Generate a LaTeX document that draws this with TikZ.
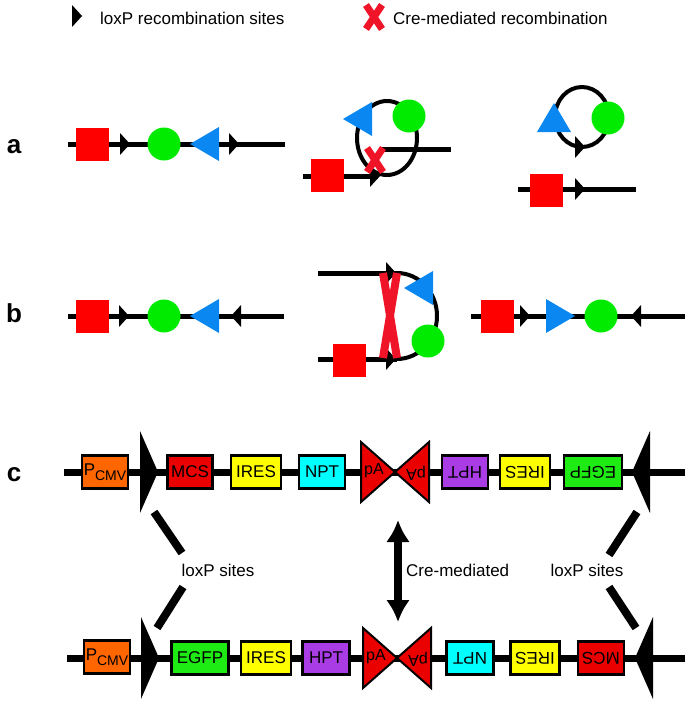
\documentclass[tikz,border=0pt]{standalone}
\usepackage{fontspec}
\setmainfont{Liberation Sans}
\usetikzlibrary{arrows.meta}

\definecolor{dnared}{RGB}{255,0,0}
\definecolor{ballgreen}{RGB}{0,235,0}
\definecolor{triblue}{RGB}{10,135,240}
\definecolor{crered}{RGB}{240,20,40}
\definecolor{pcmvorange}{RGB}{255,102,0}
\definecolor{mcsred}{RGB}{235,0,0}
\definecolor{iresyellow}{RGB}{255,255,0}
\definecolor{nptcyan}{RGB}{0,255,255}
\definecolor{hptpurple}{RGB}{170,60,230}
\definecolor{egfpgreen}{RGB}{30,235,20}

\newcommand{\genefont}{\fontsize{17}{19}\selectfont}
\newcommand{\keyfont}{\fontsize{17}{20}\selectfont}
\newcommand{\rowfont}{\fontsize{26}{30}\selectfont\bfseries}

\tikzset{
  strand/.style={line width=5pt},
  thickstrand/.style={line width=7pt},
  loopline/.style={line width=4pt},
  bar/.style={line width=8pt},
  redbox/.style={fill=dnared, minimum size=33pt, inner sep=0pt},
  ball/.style={circle, fill=ballgreen, minimum size=33pt, inner sep=0pt},
  gene/.style={draw, line width=2.5pt, minimum height=33pt, inner sep=0pt, font=\genefont},
  keytext/.style={font=\keyfont, inner sep=0pt},
  rowlabel/.style={font=\rowfont, inner sep=0pt},
  pics/site/.style={code={\fill (-5,-11) -- (5,0) -- (-5,11) -- cycle;}},
  pics/bigsite/.style={code={\fill (-9,-41) -- (9,0) -- (-9,41) -- cycle;}},
  pics/bluetri/.style={code={\fill[triblue] (-14,-17) -- (15,0) -- (-14,17) -- cycle;}},
  pics/crex/.style={code={\draw[crered, line width=7pt] (-8,-12) -- (8,12) (8,-12) -- (-8,12);}},
  pics/bowtie/.style={code={
    \filldraw[fill=mcsred, line width=2pt, line join=miter] (-34,-30) -- (0,0) -- (-34,30) -- cycle;
    \filldraw[fill=mcsred, line width=2pt, line join=miter] (34,-30) -- (0,0) -- (34,30) -- cycle;}},
}

\begin{document}
\begin{tikzpicture}[x=1pt, y=-1pt]
\useasboundingbox (0,0) rectangle (685,701);

% key
\pic at (77,16) {site};
\node[keytext, anchor=west] (keysite) at (100,18) {loxP recombination sites};
\pic at (374,17) {crex};
\node[keytext, anchor=west] (keycre) at (393,18) {Cre-mediated recombination};

% row labels
\node[rowlabel] (rowa) at (14,147) {a};
\node[rowlabel] (rowb) at (14,313) {b};
\node[rowlabel] (rowc) at (14,475) {c};

% a: excision
\coordinate (a1l) at (68,144);
\coordinate (a1r) at (285,144);
\draw[strand] (a1l) -- (a1r);
\node[redbox] (a1sq) at (92,144) {};
\pic at (125,144) {site};
\node[ball] (a1ball) at (164,144) {};
\pic[rotate=180] at (205,144) {bluetri};
\pic at (234,144) {site};

\coordinate (a2l) at (303,176);
\coordinate (a2j) at (378,176);
\coordinate (a2u) at (380,149);
\coordinate (a2r) at (451,149);
\coordinate (a2loop) at (387,138);
\draw[strand] (a2l) -- (a2j);
\draw[strand] (a2u) -- (a2r);
\draw[loopline] (a2loop) ellipse [x radius=30, y radius=37];
\node[redbox] (a2sq) at (327,175) {};
\pic at (375,176) {site};
\pic[rotate=180] at (358,119) {bluetri};
\node[ball] (a2ball) at (409,116) {};
\pic at (375,160) {crex};

\coordinate (a3loop) at (582,117);
\draw[loopline] (a3loop) ellipse [x radius=27, y radius=30];
\pic at (580,147) {site};
\pic[rotate=90] at (554,118) {bluetri};
\node[ball] (a3ball) at (608,118) {};
\coordinate (a3l) at (518,189);
\coordinate (a3r) at (636,189);
\draw[strand] (a3l) -- (a3r);
\node[redbox] (a3sq) at (546,190) {};
\pic at (580,189) {site};

% b: inversion
\coordinate (b1l) at (68,316);
\coordinate (b1r) at (284,316);
\draw[strand] (b1l) -- (b1r);
\node[redbox] (b1sq) at (92,316) {};
\pic at (124,316) {site};
\node[ball] (b1ball) at (164,316) {};
\pic[rotate=180] at (205,316) {bluetri};
\pic[rotate=180] at (236,316) {site};

\coordinate (b2ul) at (318,273);
\coordinate (b2ur) at (397,273);
\coordinate (b2ll) at (318,359);
\coordinate (b2lr) at (397,359);
\draw[strand] (b2ul) -- (b2ur);
\draw[strand] (b2ll) -- (b2lr);
\draw[loopline] (b2ur) arc[start angle=-90, end angle=90, x radius=40, y radius=43];
\node[redbox] (b2sq) at (349,360) {};
\pic at (391,273) {site};
\pic at (391,359) {site};
\pic[rotate=180] at (419,288) {bluetri};
\node[ball] (b2ball) at (428,341) {};
\draw[bar, dnared!90!black!0!crered] (383,273) -- (397,358);
\draw[bar, crered] (397,273) -- (383,358);

\coordinate (b3l) at (471,316);
\coordinate (b3r) at (685,316);
\draw[strand] (b3l) -- (b3r);
\node[redbox] (b3sq) at (497,316) {};
\pic at (525,316) {site};
\pic at (560,316) {bluetri};
\node[ball] (b3ball) at (601,316) {};
\pic[rotate=180] at (636,316) {site};

% c: cassette before and after
\coordinate (c1l) at (64,472);
\coordinate (c1r) at (685,472);
\draw[thickstrand] (c1l) -- (c1r);
\node[gene, fill=pcmvorange, minimum width=46pt] (pcmv1) at (105,472) {P\raisebox{-5pt}{\fontsize{14}{14}\selectfont CMV}};
\pic at (149,472) {bigsite};
\node[gene, fill=mcsred, minimum width=45pt] (mcs1) at (190,472) {MCS};
\node[gene, fill=iresyellow, minimum width=50pt] (ires1) at (256,472) {IRES};
\node[gene, fill=nptcyan, minimum width=46pt] (npt1) at (322,472) {NPT};
\pic at (395,472) {bowtie};
\node[font=\fontsize{16}{18}\selectfont, inner sep=0pt] (pa1) at (374,471) {pA};
\node[font=\fontsize{16}{18}\selectfont, inner sep=0pt, rotate=180] (pa2) at (416,473) {pA};
\node[gene, fill=hptpurple, minimum width=46pt, rotate=180] (hpt1) at (465,472) {HPT};
\node[gene, fill=iresyellow, minimum width=50pt, rotate=180] (ires2) at (525,472) {IRES};
\node[gene, fill=egfpgreen, minimum width=58pt, rotate=180] (egfp1) at (593,472) {EGFP};
\pic[rotate=180] at (641,472) {bigsite};

\coordinate (c2l) at (67,658);
\coordinate (c2r) at (685,658);
\draw[thickstrand] (c2l) -- (c2r);
\node[gene, fill=pcmvorange, minimum width=46pt] (pcmv2) at (107,657) {P\raisebox{-5pt}{\fontsize{14}{14}\selectfont CMV}};
\pic at (150,658) {bigsite};
\node[gene, fill=egfpgreen, minimum width=57pt] (egfp2) at (200,658) {EGFP};
\node[gene, fill=iresyellow, minimum width=50pt] (ires3) at (266,658) {IRES};
\node[gene, fill=hptpurple, minimum width=47pt] (hpt2) at (326,658) {HPT};
\pic at (397,658) {bowtie};
\node[font=\fontsize{16}{18}\selectfont, inner sep=0pt] (pa3) at (376,657) {pA};
\node[font=\fontsize{16}{18}\selectfont, inner sep=0pt, rotate=180] (pa4) at (418,659) {pA};
\node[gene, fill=nptcyan, minimum width=47pt, rotate=180] (npt2) at (470,658) {NPT};
\node[gene, fill=iresyellow, minimum width=49pt, rotate=180] (ires4) at (535,658) {IRES};
\node[gene, fill=mcsred, minimum width=46pt, rotate=180] (mcs2) at (601,658) {MCS};
\pic[rotate=180] at (644,658) {bigsite};

% loxP pointers and Cre arrow
\node[keytext] (sitesl) at (218,570) {loxP sites};
\node[keytext] (sitesr) at (587,570) {loxP sites};
\node[keytext, anchor=west] (cretext) at (406,570) {Cre-mediated};
\coordinate (pl1) at (154,512);
\coordinate (pl2) at (182,553);
\coordinate (pl3) at (183,587);
\coordinate (pl4) at (157,628);
\coordinate (pr1) at (637,512);
\coordinate (pr2) at (609,555);
\coordinate (pr3) at (609,587);
\coordinate (pr4) at (636,628);
\draw[bar] (pl1) -- (pl2);
\draw[bar] (pl3) -- (pl4);
\draw[bar] (pr1) -- (pr2);
\draw[bar] (pr3) -- (pr4);
\coordinate (cretop) at (398,520);
\coordinate (crebot) at (398,622);
\draw[bar, {Latex[length=22pt,width=24pt]}-{Latex[length=22pt,width=24pt]}] (cretop) -- (crebot);
\end{tikzpicture}
\end{document}
